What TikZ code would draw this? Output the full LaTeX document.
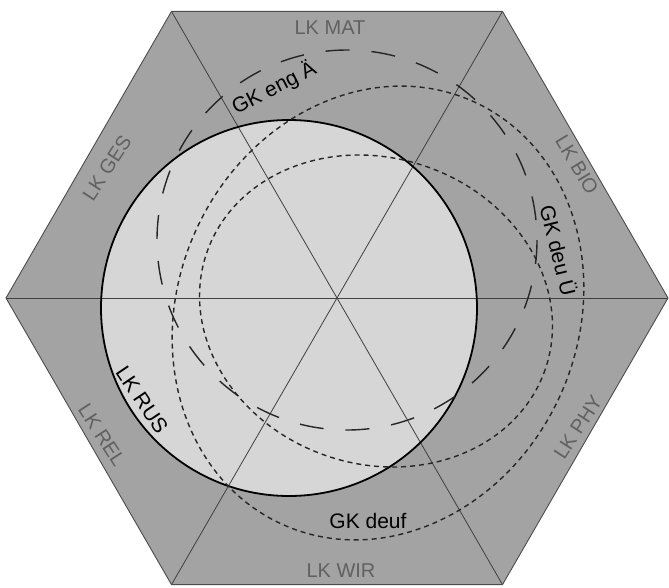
\documentclass[tikz,border=0pt]{standalone}
\usepackage{fontspec}
\setmainfont{Liberation Sans}
\definecolor{hexfill}{gray}{0.64}
\definecolor{circfill}{gray}{0.84}
\definecolor{lkgray}{gray}{0.38}
\begin{document}
\begin{tikzpicture}[x=1pt,y=-1pt,
  spoke/.style={draw=black!75, line width=0.8pt},
  hexedge/.style={draw=black!70, line width=0.9pt},
  rusline/.style={draw=black, line width=1.8pt},
  longdash/.style={draw=black!85, line width=1.4pt, dash pattern=on 24pt off 22pt},
  shortdash/.style={draw=black!85, line width=1.4pt, dash pattern=on 5pt off 4pt},
  lklabel/.style={text=lkgray, inner sep=0pt, font=\fontsize{20}{24}\selectfont},
  gklabel/.style={text=black, inner sep=0pt, font=\fontsize{21}{25}\selectfont}]
\useasboundingbox (0,0) rectangle (669,587);
\coordinate (C) at (337,298);
\coordinate (V0) at (668,298);
\coordinate (V1) at (502.5,11.4);
\coordinate (V2) at (171.5,11.4);
\coordinate (V3) at (6,298);
\coordinate (V4) at (171.5,584.6);
\coordinate (V5) at (502.5,584.6);
\coordinate (R) at (289,308);
% fills
\fill[hexfill] (V0)--(V1)--(V2)--(V3)--(V4)--(V5)--cycle;
\fill[circfill] (R) circle[radius=188];
% spokes
\draw[spoke] (V0)--(V3);
\draw[spoke] (V1)--(V4);
\draw[spoke] (V2)--(V5);
\draw[hexedge] (V0)--(V1)--(V2)--(V3)--(V4)--(V5)--cycle;
% LK RUS circle
\draw[rusline] (R) circle[radius=188];
% GK eng circle
\draw[longdash] (347,240) circle[radius=190];
% GK deuf (outer dotted)
\draw[shortdash, shift={(378,313)}, rotate=-24.4] (0,0) ellipse[x radius=200, y radius=232];
% GK deu (inner dotted)
\draw[shortdash, shift={(376,311)}, rotate=-19] (0,0) ellipse[x radius=179, y radius=153];
% labels
\node[lklabel] (mat) at (330,28) {LK MAT};
\node[lklabel, rotate=-59] (bio) at (577,165) {LK BIO};
\node[lklabel, rotate=57] (phy) at (578,427) {LK PHY};
\node[lklabel] (wir) at (341,571) {LK WIR};
\node[lklabel, rotate=-57] (rel) at (102,435) {LK REL};
\node[lklabel, rotate=57] (ges) at (107,168) {LK GES};
\node[gklabel, rotate=-56] (rus) at (142,400) {LK RUS};
\node[gklabel, rotate=27] (eng) at (274,88) {GK eng Ä};
\node[gklabel, rotate=-76] (deu) at (559,250) {GK deu Ü};
\node[gklabel] (deuf) at (368,521) {GK deuf};
\end{tikzpicture}
\end{document}
